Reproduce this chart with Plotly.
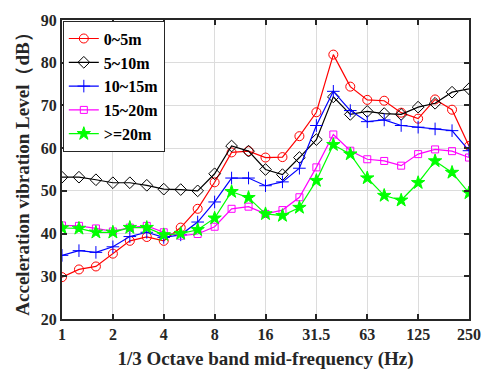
import plotly.graph_objects as go

bands = ["1", "1.25", "1.6", "2", "2.5", "3.15", "4", "5", "6.3", "8", "10", "12.5",
         "16", "20", "25", "31.5", "40", "50", "63", "80", "100", "125", "160", "200", "250"]
tick_labels = ["1", "2", "4", "8", "16", "31.5", "63", "125", "250"]

s_0_5 = [29.8, 31.6, 32.3, 35.3, 38.3, 39.2, 38.3, 41.4, 45.8, 52.0, 59.0, 59.3, 57.8,
         57.9, 62.8, 68.4, 81.9, 74.4, 71.3, 71.1, 68.3, 66.9, 71.4, 69.0, 60.5]
s_5_10 = [53.2, 53.2, 52.6, 51.9, 51.9, 51.3, 50.4, 50.3, 50.0, 54.0, 60.5, 59.3, 55.0,
          53.8, 57.8, 62.0, 72.0, 67.9, 68.6, 68.1, 67.9, 69.6, 70.5, 73.1, 73.9]
s_10_15 = [34.9, 36.0, 35.6, 36.9, 39.3, 40.3, 39.1, 39.7, 42.7, 47.4, 53.0, 53.0, 51.2,
           52.1, 55.3, 65.3, 73.3, 68.8, 66.2, 66.6, 65.3, 64.9, 64.5, 64.1, 59.4]
s_15_20 = [41.9, 41.8, 41.2, 40.5, 41.4, 41.8, 40.3, 39.5, 39.9, 41.6, 45.8, 46.3, 44.6,
           45.5, 48.5, 55.5, 63.2, 59.4, 57.4, 57.0, 55.9, 58.6, 59.7, 59.3, 57.8]
s_20 = [41.3, 41.2, 40.3, 40.3, 41.4, 41.4, 39.7, 40.0, 40.9, 43.6, 49.8, 48.4, 44.6,
        44.2, 46.1, 52.4, 60.8, 58.6, 53.0, 48.9, 47.8, 51.9, 57.0, 54.3, 49.5]

series = [
    ("0~5m", s_0_5, "#ff0000", "circle-open", 9),
    ("5~10m", s_5_10, "#000000", "diamond-open", 9),
    ("10~15m", s_10_15, "#0000ff", "cross-thin-open", 9),
    ("15~20m", s_15_20, "#ff00ff", "square-open", 7),
    (">=20m", s_20, "#00ff00", "star", 10),
]

fig = go.Figure()
for name, ys, color, sym, size in series:
    marker = dict(symbol=sym, size=size, color=color, line=dict(color=color, width=1))
    fig.add_trace(go.Scatter(x=bands, y=ys, name=name, mode="lines+markers",
                             line=dict(color=color, width=1.2), marker=marker))

font_family = "Liberation Serif"
fig.update_layout(
    width=493, height=378,
    margin=dict(l=62, r=13, t=16, b=51),
    paper_bgcolor="white", plot_bgcolor="white",
    font=dict(family=font_family, size=16, color="#262626"),
    legend=dict(x=0.002, y=0.998, xanchor="left", yanchor="top",
                bgcolor="white", bordercolor="#262626", borderwidth=1,
                font=dict(family=font_family, size=16, color="#000000", weight="bold"),
                tracegroupgap=0, itemsizing="trace"),
    showlegend=True,
)
fig.update_xaxes(
    type="category", range=[0, 24],
    tickmode="array", tickvals=tick_labels, ticktext=tick_labels,
    showgrid=True, gridcolor="#dcdcdc", gridwidth=1,
    showline=True, linecolor="#262626", linewidth=2, mirror="ticks",
    ticks="inside", ticklen=5, tickcolor="#262626", tickwidth=2,
    tickfont=dict(family=font_family, size=16, weight="bold", color="#262626"),
    title=dict(text="1/3 Octave band mid-frequency (Hz)", standoff=9,
               font=dict(family=font_family, size=19, weight="bold", color="#262626")),
    zeroline=False,
)
fig.update_yaxes(
    range=[20, 90], tickmode="array", tickvals=[20, 30, 40, 50, 60, 70, 80, 90],
    showgrid=True, gridcolor="#dcdcdc", gridwidth=1,
    showline=True, linecolor="#262626", linewidth=2, mirror="ticks",
    ticks="inside", ticklen=5, tickcolor="#262626", tickwidth=2,
    tickfont=dict(family=font_family, size=16, weight="bold", color="#262626"),
    title=dict(text="Acceleration vibration Level（dB）", standoff=6,
               font=dict(family=font_family, size=19, weight="bold", color="#262626")),
    zeroline=False,
)

fig.write_html("out.html")
